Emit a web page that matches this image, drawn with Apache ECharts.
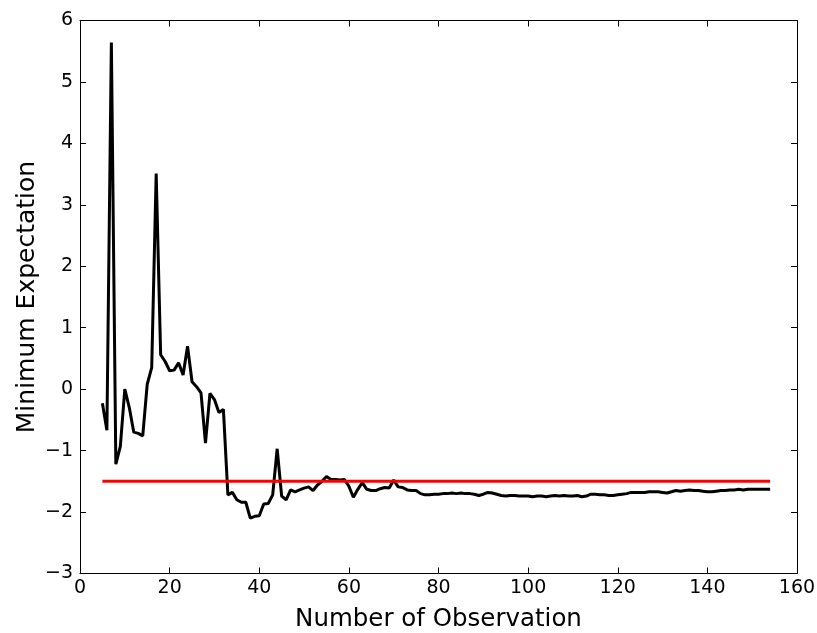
<!DOCTYPE html>
<html>
<head>
<meta charset="utf-8">
<script src="https://cdn.jsdelivr.net/npm/echarts@6/dist/echarts.min.js"></script>
<style>html,body{margin:0;padding:0;background:#fff}#c{width:817px;height:633px}</style>
</head>
<body>
<div id="c"></div>
<script>
var xStart = 5;
var expectation = [
-0.23,-0.67,5.64,-1.22,-0.93,0.0,-0.3,-0.7,-0.72,-0.76,
0.08,0.35,3.51,0.56,0.45,0.3,0.31,0.43,0.23,0.7,
0.12,0.04,-0.06,-0.88,-0.07,-0.17,-0.38,-0.33,-1.72,-1.68,
-1.8,-1.84,-1.84,-2.1,-2.07,-2.06,-1.87,-1.86,-1.72,-0.97,
-1.74,-1.8,-1.64,-1.67,-1.64,-1.61,-1.59,-1.65,-1.56,-1.5,
-1.42,-1.47,-1.47,-1.48,-1.47,-1.58,-1.76,-1.63,-1.52,-1.63,
-1.65,-1.65,-1.62,-1.6,-1.61,-1.48,-1.59,-1.6,-1.64,-1.65,
-1.65,-1.7,-1.72,-1.72,-1.71,-1.71,-1.7,-1.7,-1.69,-1.7,
-1.69,-1.7,-1.7,-1.71,-1.73,-1.71,-1.68,-1.69,-1.71,-1.73,
-1.74,-1.73,-1.73,-1.74,-1.74,-1.74,-1.75,-1.74,-1.74,-1.75,
-1.74,-1.73,-1.74,-1.73,-1.74,-1.74,-1.73,-1.75,-1.74,-1.71,
-1.71,-1.72,-1.72,-1.73,-1.73,-1.72,-1.71,-1.7,-1.68,-1.68,
-1.68,-1.68,-1.67,-1.67,-1.67,-1.68,-1.69,-1.67,-1.65,-1.66,
-1.65,-1.64,-1.65,-1.65,-1.66,-1.67,-1.67,-1.66,-1.65,-1.65,
-1.64,-1.64,-1.63,-1.64,-1.63,-1.63,-1.63,-1.63,-1.63,-1.63
];
var referenceX = [5, 154];
var referenceY = [-1.5, -1.5];
var xMin = 0, xMax = 160, xStep = 20;
var yMin = -3, yMax = 6, yStep = 1;
var xTitle = 'Number of Observation';
var yTitle = 'Minimum Expectation';

var mainData = expectation.map(function(v, i){ return [xStart + i, v]; });
var refData = referenceX.map(function(x, i){ return [x, referenceY[i]]; });
var fmt = function(v){ return String(v).replace('-', '\u2212'); };
var font = 'DejaVu Sans';
var lineStyle = {color:'#000', width:1};

var chart = echarts.init(document.getElementById('c'), null, {renderer:'canvas'});
chart.setOption({
  animation:false,
  backgroundColor:'#fff',
  grid:{left:80, right:20, top:20.5, bottom:59.5, containLabel:false, outerBoundsMode:'none'},
  xAxis:[{
    type:'value', min:xMin, max:xMax, interval:xStep, position:'bottom',
    name:xTitle, nameLocation:'middle', nameGap:34, nameMoveOverlap:false,
    nameTextStyle:{fontFamily:font, fontSize:24.5, color:'#000'},
    axisLine:{show:true, onZero:false, lineStyle:lineStyle},
    axisTick:{show:true, inside:true, length:6, lineStyle:lineStyle},
    axisLabel:{fontFamily:font, fontSize:19, color:'#000', margin:5, formatter:fmt},
    splitLine:{show:false}
  },{
    type:'value', min:xMin, max:xMax, interval:xStep, position:'top',
    axisLine:{show:true, onZero:false, lineStyle:lineStyle},
    axisTick:{show:true, inside:true, length:6, lineStyle:lineStyle},
    axisLabel:{show:false}, splitLine:{show:false}
  }],
  yAxis:[{
    type:'value', min:yMin, max:yMax, interval:yStep, position:'left',
    name:yTitle, nameLocation:'middle', nameGap:40, nameRotate:90, nameMoveOverlap:false,
    nameTextStyle:{fontFamily:font, fontSize:25, color:'#000'},
    axisLine:{show:true, onZero:false, lineStyle:lineStyle},
    axisTick:{show:true, inside:true, length:6, lineStyle:lineStyle},
    axisLabel:{fontFamily:font, fontSize:19, color:'#000', margin:7, formatter:fmt},
    splitLine:{show:false}
  },{
    type:'value', min:yMin, max:yMax, interval:yStep, position:'right',
    axisLine:{show:true, onZero:false, lineStyle:lineStyle},
    axisTick:{show:true, inside:true, length:6, lineStyle:lineStyle},
    axisLabel:{show:false}, splitLine:{show:false}
  }],
  series:[{
    type:'line', data:mainData, showSymbol:false, symbol:'none',
    lineStyle:{color:'#000', width:3}, z:3
  },{
    type:'line', data:refData, showSymbol:false, symbol:'none',
    lineStyle:{color:'#ff0000', width:3}, z:4
  }]
});
</script>
</body>
</html>
